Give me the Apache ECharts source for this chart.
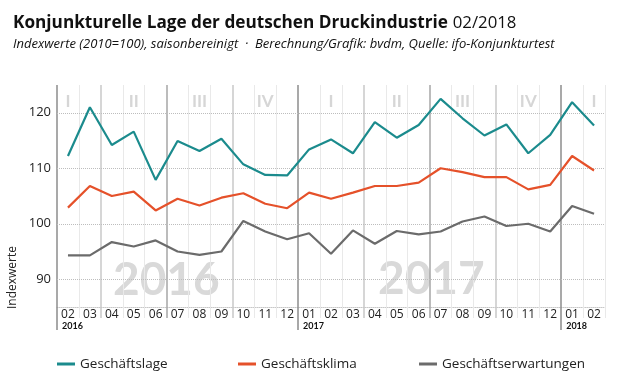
<!DOCTYPE html>
<html>
<head>
<meta charset="utf-8">
<script src="https://cdn.jsdelivr.net/npm/echarts@6/dist/echarts.min.js"></script>
<style>html,body{margin:0;padding:0;background:#fff}#c{width:620px;height:380px}</style>
</head>
<body>
<div id="c"></div>
<script>
const months = ['02','03','04','05','06','07','08','09','10','11','12','01','02','03','04','05','06','07','08','09','10','11','12','01','02'];
const yearStarts = {0:'2016', 11:'2017', 23:'2018'};
const quarterNames = {'02':'I','05':'II','08':'III','11':'IV'};
const yTicks = [90, 100, 110, 120];
const seriesNames = ['Geschäftslage','Geschäftsklima','Geschäftserwartungen'];
const geschaeftslage = [112.2,121.0,114.2,116.6,107.9,114.9,113.1,115.3,110.7,108.8,108.7,113.4,115.2,112.7,118.3,115.5,117.8,122.5,119.0,115.9,117.9,112.7,116.0,121.9,117.7];
const geschaeftsklima = [102.9,106.8,105.0,105.8,102.4,104.5,103.3,104.7,105.5,103.6,102.8,105.6,104.5,105.6,106.8,106.8,107.4,110.0,109.3,108.4,108.4,106.2,107.0,112.2,109.6];
const geschaeftserwartungen = [94.3,94.3,96.7,95.9,97.0,95.0,94.4,95.0,100.5,98.6,97.2,98.3,94.6,98.8,96.4,98.7,98.1,98.6,100.4,101.3,99.6,100.0,98.6,103.2,101.8];

const FONT = 'Lato';
const FONT2 = 'Open Sans';
const boundaries = months.map((m,i)=>'b'+i).concat(['b'+months.length]);
function kind(i){
  if (i === 0 || (i < months.length && months[i] === '01')) return 'year';
  if (i < months.length && months[i] === '07') return 'half';
  if (i < months.length && (months[i] === '04' || months[i] === '10')) return 'quarter';
  return 'month';
}
const lineStyles = {
  month:   {color:'#e9e9e9', len:11},
  quarter: {color:'#c8c8c8', len:11},
  half:    {color:'#a6a6a6', len:11},
  year:    {color:'#8c8c8c', len:23}
};
const boundaryAxes = Object.keys(lineStyles).map(k=>({
  type:'category', data:boundaries, boundaryGap:false, position:'bottom',
  axisLine:{show:false},
  axisTick:{show:true, interval:(i)=>kind(i)===k, length:lineStyles[k].len, lineStyle:{color:lineStyles[k].color, width:k==='month'?1:1.5}},
  splitLine:{show:true, interval:(i)=>kind(i)===k, lineStyle:{color:lineStyles[k].color, width:k==='month'?1:1.5}},
  axisLabel: k==='year' ? {
    show:true, interval:(i)=>yearStarts[i]!==undefined, formatter:(v,i)=>yearStarts[i]||'',
    align:'left', margin:15, fontFamily:FONT, fontWeight:'bold', fontSize:9, color:'#111', padding:[0,0,0,5]
  } : {show:false}
}));
const legendLefts = [57, 238, 419];
const legends = seriesNames.map((n,i)=>({
  left:legendLefts[i], top:357, padding:0, itemWidth:18, itemHeight:3, icon:'rect',
  textStyle:{fontFamily:FONT2, fontSize:13.5, color:'#222'}, data:[n]
}));

const chart = echarts.init(document.getElementById('c'));
chart.setOption({
  animation:false,
  textStyle:{fontFamily:FONT2},
  title:{
    left:8, top:9,
    text:'{b|Konjunkturelle Lage der deutschen Druckindustrie} {n|02/2018}',
    textStyle:{rich:{
      b:{fontFamily:FONT2, fontWeight:'bold', fontSize:17.2, color:'#111'},
      n:{fontFamily:FONT2, fontWeight:'normal', fontSize:16.8, color:'#111'}
    }},
    subtext:'Indexwerte (2010=100), saisonbereinigt  ·  Berechnung/Grafik: bvdm, Quelle: ifo-Konjunkturtest',
    subtextStyle:{fontFamily:FONT2, fontStyle:'italic', fontSize:13, color:'#111'},
    itemGap:6
  },
  grid:{left:57, right:15, top:85, bottom:73},
  graphic:[
    {type:'text', z:-1, left:113, top:257, style:{text:'2016', fontFamily:FONT, fontWeight:'bold', fontSize:46, fill:'#d9d9d9'}},
    {type:'text', z:-1, left:378, top:256, style:{text:'2017', fontFamily:FONT, fontWeight:'bold', fontSize:46, fill:'#d9d9d9'}},
    {type:'text', x:13, y:309, rotation:Math.PI/2, style:{text:'Indexwerte', fontFamily:FONT2, fontSize:12, fill:'#222', textAlign:'left', textVerticalAlign:'middle'}}
  ],
  xAxis:[
    {type:'category', data:months, boundaryGap:true, position:'bottom',
     axisLine:{show:true, lineStyle:{color:'#c8c8c8', type:'dotted'}}, axisTick:{show:false},
     axisLabel:{margin:2, fontSize:12, color:'#222', fontFamily:FONT2}, splitLine:{show:false}},
    {type:'category', data:months, boundaryGap:true, position:'top',
     axisLine:{show:false}, axisTick:{show:false}, splitLine:{show:false},
     axisLabel:{inside:true, interval:0, margin:8, formatter:(v)=>quarterNames[v]||'', fontSize:17, fontWeight:'bold', color:'#d6d6d6', fontFamily:FONT}}
  ].concat(boundaryAxes),
  yAxis:{type:'value', min:85, max:125, interval:5,
    axisLine:{show:false}, axisTick:{show:false}, splitLine:{show:false},
    axisLabel:{formatter:(v)=>v%10===0?String(v):'', fontSize:13, color:'#222', margin:6, fontFamily:FONT2}},
  legend:legends,
  series:[
    {name:seriesNames[0], type:'line', data:geschaeftslage, symbol:'none', color:'#1b8b8d', lineStyle:{width:2.2},
     markLine:{silent:true, symbol:'none', label:{show:false}, lineStyle:{type:'dotted', color:'#bdbdbd', width:1},
       data:yTicks.map(v=>({yAxis:v})), z:1}},
    {name:seriesNames[1], type:'line', data:geschaeftsklima, symbol:'none', color:'#e5512a', lineStyle:{width:2.2}},
    {name:seriesNames[2], type:'line', data:geschaeftserwartungen, symbol:'none', color:'#6b6b6b', lineStyle:{width:2.2}}
  ]
});
</script>
</body>
</html>
